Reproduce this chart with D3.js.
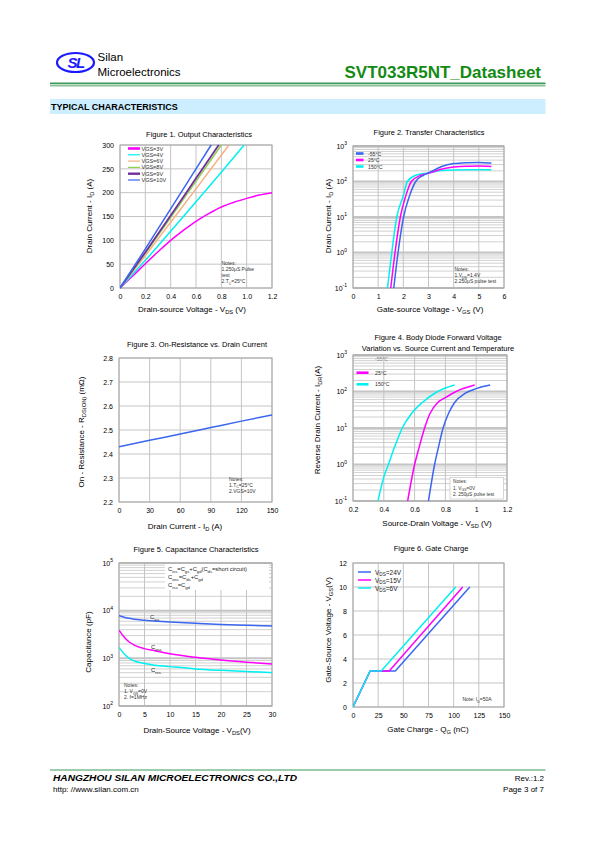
<!DOCTYPE html>
<html><head><meta charset="utf-8">
<script src="https://cdn.jsdelivr.net/npm/d3@7"></script>
<style>body{margin:0;background:#fff}svg{display:block}text{font-family:Arial,"Liberation Sans",Helvetica,sans-serif}</style>
</head><body><svg id="c" width="595" height="842"></svg>
<script>
// ---------------- DATA ----------------
// Figure 1: Output characteristics  [VDS (V), ID (A)]
const f1Names = ["VGS=3V","VGS=4V","VGS=6V","VGS=8V","VGS=9V","VGS=10V"];
const f1Vgs3  = [[0,0],[0.1,25],[0.2,51],[0.3,76],[0.4,100],[0.5,121],[0.6,140],[0.7,156],[0.8,170],[0.9,180],[1.0,188],[1.1,195],[1.2,200]];
const f1Vgs4  = [[0,0],[0.2,58],[0.4,119],[0.6,181],[0.8,243],[0.98,300]];
const f1Vgs6  = [[0,0],[0.2,68],[0.4,138],[0.6,208],[0.86,300]];
const f1Vgs8  = [[0,0],[0.2,73],[0.4,148],[0.6,224],[0.8,300]];
const f1Vgs9  = [[0,0],[0.2,75],[0.4,152],[0.6,230],[0.78,300]];
const f1Vgs10 = [[0,0],[0.2,82],[0.4,166],[0.6,250],[0.72,300]];
const f1XTicks = [0,0.2,0.4,0.6,0.8,1.0,1.2];
const f1XLabels = ["0","0.2","0.4","0.6","0.8","1.0","1.2"];
const f1YTicks = [0,50,100,150,200,250,300];

// Figure 2: Transfer characteristics [VGS (V), ID (A)]
const f2Names = ["-55°C","25°C","150°C"];
const f2Tm55 = [[1.62,0.1],[1.79,1],[2.01,10],[2.25,40],[2.49,100],[2.8,150],[3.0,175],[3.5,260],[4.0,320],[4.5,340],[5.0,345],[5.5,330]];
const f2T25  = [[1.5,0.1],[1.67,1],[1.88,10],[2.1,40],[2.32,100],[2.7,150],[3.0,170],[3.5,220],[4.0,255],[4.5,270],[5.0,272],[5.5,265]];
const f2T150 = [[1.37,0.1],[1.54,1],[1.74,10],[2.0,40],[2.16,100],[2.5,150],[3.0,175],[3.5,205],[4.0,212],[5.0,215],[5.5,215]];
const f2XTicks = [0,1,2,3,4,5,6];
const f2YTicks = [0.1,1,10,100,1000];

// Figure 3: On-resistance vs drain current [ID (A), RDS(on) (mOhm)]
const f3Rds = [[0,2.430],[30,2.457],[60,2.483],[90,2.510],[120,2.537],[150,2.563]];
const f3XTicks = [0,30,60,90,120,150];
const f3YTicks = [2.2,2.3,2.4,2.5,2.6,2.7,2.8];

// Figure 4: Body diode forward voltage [VSD (V), IDR (A)]
const f4Names = ["-55°C","25°C","150°C"];
const f4Tm55 = [[0.69,0.1],[0.73,1],[0.755,3],[0.785,10],[0.82,25],[0.86,50],[0.93,90],[1.0,120],[1.09,150]];
const f4T25  = [[0.555,0.1],[0.6,1],[0.63,3],[0.665,10],[0.70,25],[0.75,50],[0.80,68],[0.87,100],[0.99,150]];
const f4T150 = [[0.362,0.1],[0.40,0.45],[0.43,1],[0.47,3],[0.52,10],[0.58,25],[0.65,50],[0.75,100],[0.86,150]];
const f4XTicks = [0.2,0.4,0.6,0.8,1.0,1.2];
const f4XLabels = ["0.2","0.4","0.6","0.8","1","1.2"];
const f4YTicks = [0.1,1,10,100,1000];

// Figure 5: Capacitance [VDS (V), C (pF)]
const f5Ciss = [[0,7800],[1,7300],[2,6900],[3,6600],[5,6300],[7,6050],[10,5800],[15,5450],[20,5150],[25,4950],[30,4750]];
const f5Coss = [[0,3900],[0.5,3300],[1,2800],[2,2200],[3,1900],[5,1600],[7,1450],[10,1250],[15,1050],[20,920],[25,830],[30,760]];
const f5Crss = [[0,1700],[0.5,1450],[1,1250],[2,1000],[3,880],[5,780],[7,720],[10,670],[15,600],[20,560],[25,530],[30,500]];
const f5XTicks = [0,5,10,15,20,25,30];
const f5YTicks = [100,1000,10000,100000];

// Figure 6: Gate charge [QG (nC), VGS (V)]
const f6Names = ["V_{DS}=24V","V_{DS}=15V","V_{DS}=6V"];
const f6V24 = [[0,0],[17,3],[42,3],[116,10]];
const f6V15 = [[0,0],[17,3],[36,3],[109,10]];
const f6V6  = [[0,0],[17,3],[28,3],[102,10]];
const f6XTicks = [0,25,50,75,100,125,150];
const f6YTicks = [0,2,4,6,8,10,12];

// ---------------- DRAWING ----------------
const svg = d3.select("#c");
const MAG = "#ff00ff", CYA = "#00f0f0", BLU = "#3a66f0", PUR = "#7030a0", GRN = "#92d050", ORG = "#f4b183";
const GRID = "#c4c4c4";

function rich(sel, str, size) {
  const parts = str.split(/(_\{[^}]*\}|\^\{[^}]*\})/).filter(s => s.length);
  let off = 0;
  parts.forEach(p => {
    let t = p, target = 0, fs = size;
    if (p.startsWith("_{")) { t = p.slice(2, -1); target = size * 0.3; fs = size * 0.72; }
    else if (p.startsWith("^{")) { t = p.slice(2, -1); target = -size * 0.45; fs = size * 0.72; }
    sel.append("tspan").attr("dy", target - off).attr("font-size", fs).text(t);
    off = target;
  });
  return sel;
}
function txt(g, x, y, str, size, opts = {}) {
  const t = g.append("text").attr("x", x).attr("y", y).attr("font-size", size)
    .attr("fill", opts.fill || "#000").attr("text-anchor", opts.anchor || "start");
  if (opts.weight) t.attr("font-weight", opts.weight);
  if (opts.style) t.attr("font-style", opts.style);
  if (opts.rotate) t.attr("transform", `rotate(-90,${x},${y})`);
  if (opts.len) t.attr("textLength", opts.len).attr("lengthAdjust", "spacingAndGlyphs");
  rich(t, str, size);
  return t;
}

function chart(c) {
  const g = svg.append("g");
  const x = (c.xLog ? d3.scaleLog() : d3.scaleLinear()).domain(c.xDomain).range([c.L, c.R]);
  const y = (c.yLog ? d3.scaleLog() : d3.scaleLinear()).domain(c.yDomain).range([c.B, c.T]);
  const grid = g.append("g");
  if (c.yLog) {
    const lo = Math.round(Math.log10(c.yDomain[0])), hi = Math.round(Math.log10(c.yDomain[1]));
    for (let d = lo; d < hi; d++) for (let k = 2; k <= 9; k++) {
      const v = k * Math.pow(10, d);
      grid.append("line").attr("x1", c.L).attr("x2", c.R).attr("y1", y(v)).attr("y2", y(v))
        .attr("stroke", GRID).attr("stroke-width", 0.8);
    }
  }
  c.yTicks.forEach(v => grid.append("line").attr("x1", c.L).attr("x2", c.R).attr("y1", y(v)).attr("y2", y(v))
    .attr("stroke", GRID).attr("stroke-width", c.yLog ? 2 : 1));
  c.xTicks.forEach(v => grid.append("line").attr("x1", x(v)).attr("x2", x(v)).attr("y1", c.T).attr("y2", c.B)
    .attr("stroke", GRID).attr("stroke-width", 1));
  g.append("rect").attr("x", c.L).attr("y", c.T).attr("width", c.R - c.L).attr("height", c.B - c.T)
    .attr("fill", "none").attr("stroke", "#a8a8a8").attr("stroke-width", 1);

  const xa = g.append("g").attr("transform", `translate(0,${c.B})`)
    .call(d3.axisBottom(x).tickValues(c.xTicks).tickSize(0).tickPadding(6)
      .tickFormat((d, i) => c.xLabels ? c.xLabels[i] : String(d)));
  xa.select(".domain").remove();
  xa.selectAll("text").attr("font-size", 7).attr("font-family", null).attr("fill", "#000");

  const ya = g.append("g").attr("transform", `translate(${c.L},0)`)
    .call(d3.axisLeft(y).tickValues(c.yTicks).tickSize(0).tickPadding(6)
      .tickFormat(d => c.yFmt ? c.yFmt(d) : String(d)));
  ya.select(".domain").remove();
  ya.selectAll("text").attr("font-size", 7).attr("font-family", null).attr("fill", "#000");
  if (c.yLog) {
    ya.selectAll("text").each(function (d) {
      const s = d3.select(this); s.text("");
      s.append("tspan").text("10");
      s.append("tspan").attr("font-size", 5).attr("dy", -3.5).text(String(Math.round(Math.log10(d))));
    });
  }
  c.title.forEach((t, i) => txt(g, c.titleX, c.titleY + i * 10.5, t, 7.5, { anchor: "middle" }));
  txt(g, c.xLabX, c.xLabY, c.xLabel, 8, { anchor: "middle" });
  txt(g, c.yLabX, c.yLabY, c.yLabel, 8, { anchor: "middle", rotate: true });

  const clipId = "clip" + Math.random().toString(36).slice(2);
  g.append("clipPath").attr("id", clipId).append("rect")
    .attr("x", c.L).attr("y", c.T - 1).attr("width", c.R - c.L + 1).attr("height", c.B - c.T + 2);
  const lines = g.append("g").attr("clip-path", `url(#${clipId})`);
  c.series.forEach(s => {
    lines.append("path").datum(s.data)
      .attr("d", d3.line().x(d => x(d[0])).y(d => y(d[1])).curve(s.linear ? d3.curveLinear : d3.curveMonotoneX))
      .attr("fill", "none").attr("stroke", s.color).attr("stroke-width", s.w || 1.5)
      .attr("stroke-linejoin", "round");
  });
  return { g, x, y };
}

// ---------------- HEADER ----------------
const hdr = svg.append("g");
hdr.append("ellipse").attr("cx", 75.5).attr("cy", 62.5).attr("rx", 18.5).attr("ry", 9.5)
  .attr("fill", "none").attr("stroke", "#1a1aff").attr("stroke-width", 2.2);
hdr.append("text").attr("x", 75.5).attr("y", 68).attr("text-anchor", "middle").attr("font-size", 15)
  .attr("font-weight", "bold").attr("font-style", "italic").attr("fill", "#1a1aff")
  .attr("font-family", "'DejaVu Serif', serif").attr("letter-spacing", -1.5).text("SL");
txt(hdr, 97.5, 60.5, "Silan", 11.5);
txt(hdr, 97.5, 76, "Microelectronics", 11.5);
txt(hdr, 541, 78, "SVT033R5NT_Datasheet", 17, { anchor: "end", weight: "bold", fill: "#138a13" });
hdr.append("rect").attr("x", 50).attr("y", 82.5).attr("width", 495.5).attr("height", 1.8).attr("fill", "#3c9a5a");
hdr.append("rect").attr("x", 50).attr("y", 85.4).attr("width", 495.5).attr("height", 0.9).attr("fill", "#3c9a5a");
hdr.append("rect").attr("x", 50).attr("y", 99).attr("width", 495.5).attr("height", 15).attr("fill", "#cceeff");
txt(hdr, 51, 110, "TYPICAL CHARACTERISTICS", 9, { weight: "bold" });

// ---------------- FIGURE 1 ----------------
const c1 = chart({
  L: 120, R: 272, T: 145, B: 288, xDomain: [0, 1.2], yDomain: [0, 300],
  xTicks: f1XTicks, xLabels: f1XLabels, yTicks: f1YTicks,
  title: ["Figure 1. Output Characteristics"], titleX: 199, titleY: 137,
  xLabel: "Drain-source Voltage - V_{DS} (V)", xLabX: 192, xLabY: 312,
  yLabel: "Drain Current - I_{D} (A)", yLabX: 92, yLabY: 216,
  series: [
    { data: f1Vgs3, color: MAG }, { data: f1Vgs4, color: CYA }, { data: f1Vgs6, color: ORG },
    { data: f1Vgs8, color: GRN }, { data: f1Vgs9, color: PUR, w: 1.8 }, { data: f1Vgs10, color: BLU }
  ]
});
const f1Colors = [MAG, CYA, ORG, GRN, PUR, BLU];
const f1W = [2.6, 1.2, 1.2, 1.2, 2.4, 1.2];
f1Names.forEach((n, i) => {
  const yy = 148.5 + i * 6.3;
  c1.g.append("line").attr("x1", 128).attr("x2", 140).attr("y1", yy).attr("y2", yy)
    .attr("stroke", f1Colors[i]).attr("stroke-width", f1W[i]);
  txt(c1.g, 141.5, yy + 2, n, 5.5, { fill: "#333" });
});
["Notes:", "1.250μS Pulse", "test", "2.T_{C}=25°C"].forEach((s, i) => txt(c1.g, 221.5, 264.5 + i * 6.2, s, 5, { fill: "#333" }));

// ---------------- FIGURE 2 ----------------
const c2 = chart({
  L: 353, R: 504, T: 146, B: 288, xDomain: [0, 6], yDomain: [0.1, 1000], yLog: true,
  xTicks: f2XTicks, yTicks: f2YTicks,
  title: ["Figure 2. Transfer Characteristics"], titleX: 429, titleY: 135,
  xLabel: "Gate-source Voltage - V_{GS} (V)", xLabX: 430, xLabY: 312,
  yLabel: "Drain Current -  I_{D} (A)", yLabX: 331, yLabY: 216,
  series: [{ data: f2T150, color: CYA }, { data: f2T25, color: MAG }, { data: f2Tm55, color: BLU }]
});
[BLU, MAG, CYA].forEach((col, i) => {
  const yy = 153.5 + i * 6.5;
  c2.g.append("line").attr("x1", 356).attr("x2", 363.5).attr("y1", yy).attr("y2", yy).attr("stroke", col).attr("stroke-width", 2.6);
  txt(c2.g, 368, yy + 2, f2Names[i], 5.2, { fill: "#333" });
});
["Notes:", "1.V_{DS}=1.4V", "2.250μS  pulse test"].forEach((s, i) => txt(c2.g, 454.5, 271 + i * 6.2, s, 5, { fill: "#333" }));

// ---------------- FIGURE 3 ----------------
const c3 = chart({
  L: 119, R: 272, T: 358, B: 502, xDomain: [0, 150], yDomain: [2.2, 2.8],
  xTicks: f3XTicks, yTicks: f3YTicks, yFmt: d => d.toFixed(1),
  title: ["Figure 3. On-Resistance vs. Drain Current"], titleX: 197, titleY: 347,
  xLabel: "Drain Current - I_{D} (A)", xLabX: 185, xLabY: 529,
  yLabel: "On - Resistance - R_{DS(ON)} (mΩ)", yLabX: 84, yLabY: 432,
  series: [{ data: f3Rds, color: BLU }]
});
["Notes:", "1.T_{C}=25°C", "2.VGS=10V"].forEach((s, i) => txt(c3.g, 229, 480.5 + i * 6.3, s, 5, { fill: "#333" }));

// ---------------- FIGURE 4 ----------------
const c4 = chart({
  L: 353, R: 507, T: 355, B: 501, xDomain: [0.2, 1.2], yDomain: [0.1, 1000], yLog: true,
  xTicks: f4XTicks, xLabels: f4XLabels, yTicks: f4YTicks,
  title: ["Figure 4. Body Diode Forward Voltage", "Variation vs. Source Current and Temperature"], titleX: 438, titleY: 340,
  xLabel: "Source-Drain Voltage - V_{SD} (V)", xLabX: 437, xLabY: 526,
  yLabel: "Reverse Drain Current - I_{DR}(A)", yLabX: 320, yLabY: 420,
  series: [{ data: f4T150, color: CYA }, { data: f4T25, color: MAG }, { data: f4Tm55, color: BLU }]
});
txt(c4.g, 375, 361, f4Names[0], 5, { fill: "#888" });
[MAG, CYA].forEach((col, i) => {
  const yy = 372.7 + i * 11.6;
  c4.g.append("line").attr("x1", 356.5).attr("x2", 368.5).attr("y1", yy).attr("y2", yy).attr("stroke", col).attr("stroke-width", 2.6);
  txt(c4.g, 375, yy + 2, f4Names[i + 1], 5.2, { fill: "#333" });
});
c4.g.append("rect").attr("x", 450).attr("y", 477.5).attr("width", 53.5).attr("height", 21.5)
  .attr("fill", "#fff").attr("stroke", "#bbb").attr("stroke-width", 0.6);
["Notes:", "1. V_{GS}=0V", "2. 250μS pulse test"].forEach((s, i) => txt(c4.g, 453, 483 + i * 6.6, s, 4.8, { fill: "#333" }));

// ---------------- FIGURE 5 ----------------
const c5 = chart({
  L: 119, R: 272, T: 563, B: 706, xDomain: [0, 30], yDomain: [100, 100000], yLog: true,
  xTicks: f5XTicks, yTicks: f5YTicks,
  title: ["Figure 5. Capacitance Characteristics"], titleX: 196, titleY: 552,
  xLabel: "Drain-Source Voltage - V_{DS}(V)", xLabX: 197, xLabY: 733,
  yLabel: "Capacitance (pF)", yLabX: 91, yLabY: 642,
  series: [{ data: f5Ciss, color: BLU }, { data: f5Coss, color: MAG }, { data: f5Crss, color: CYA }]
});
c5.g.append("rect").attr("x", 165).attr("y", 564).attr("width", 104).attr("height", 26).attr("fill", "#fff");
["C_{iss}=C_{gs}+C_{gd}(C_{ds}=short circuit)", "C_{oss}=C_{ds}+C_{gd}", "C_{rss}=C_{gd}"]
  .forEach((s, i) => txt(c5.g, 168, 571 + i * 8.2, s, 5.8, { fill: "#222" }));
txt(c5.g, 150, 619, "C_{iss}", 5.8, { fill: "#222" });
txt(c5.g, 151, 649, "C_{oss}", 5.8, { fill: "#222" });
txt(c5.g, 151, 672, "C_{rss}", 5.8, { fill: "#222" });
["Notes:", "1. V_{GS}=0V", "2. f=1MHz"].forEach((s, i) => txt(c5.g, 124, 687 + i * 6, s, 5, { fill: "#333" }));

// ---------------- FIGURE 6 ----------------
const c6 = chart({
  L: 353, R: 504, T: 563, B: 707, xDomain: [0, 150], yDomain: [0, 12],
  xTicks: f6XTicks, yTicks: f6YTicks,
  title: ["Figure 6. Gate Charge"], titleX: 431, titleY: 551,
  xLabel: "Gate Charge - Q_{G} (nC)", xLabX: 428, xLabY: 732,
  yLabel: "Gate-Source Voltage - V_{GS}(V)", yLabX: 331, yLabY: 630,
  series: [{ data: f6V24, color: BLU, linear: true }, { data: f6V15, color: MAG, linear: true }, { data: f6V6, color: CYA, linear: true }]
});
[BLU, MAG, CYA].forEach((col, i) => {
  const yy = 572 + i * 8;
  c6.g.append("line").attr("x1", 358).attr("x2", 371).attr("y1", yy).attr("y2", yy).attr("stroke", col).attr("stroke-width", 1.5);
  txt(c6.g, 375, yy + 2.5, f6Names[i], 6.5, { fill: "#222" });
});
txt(c6.g, 462.5, 701, "Note: I_{D}=50A", 5, { fill: "#333" });

// ---------------- FOOTER ----------------
const ft = svg.append("g");
ft.append("rect").attr("x", 50).attr("y", 769.5).attr("width", 495.5).attr("height", 1).attr("fill", "#3c9a5a");
txt(ft, 53, 781, "HANGZHOU SILAN MICROELECTRONICS CO.,LTD", 9, { weight: "bold", style: "italic", len: 244 });
txt(ft, 53, 792, "http: //www.silan.com.cn", 8);
txt(ft, 544, 781, "Rev.:1.2", 8, { anchor: "end" });
txt(ft, 544, 792, "Page  3  of  7", 8, { anchor: "end" });
</script></body></html>
